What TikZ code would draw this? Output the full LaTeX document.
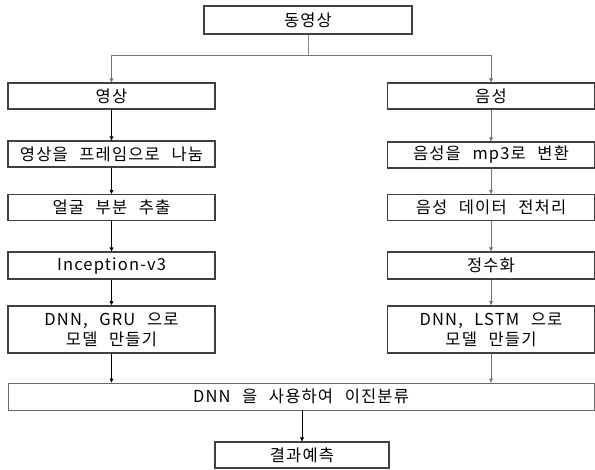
\documentclass[tikz,border=0pt]{standalone}
\usepackage{fontspec}
\setmainfont{Noto Sans CJK KR}[WordSpace=2.4, LetterSpace=7]
\usetikzlibrary{arrows.meta, positioning}

\begin{document}
\begin{tikzpicture}[
    x=1pt, y=-1pt,
    >={Triangle[length=4pt, width=3.6pt]},
    box/.style={draw=black!75, line width=1.1pt, minimum width=207pt, minimum height=26pt,
                inner sep=0pt, font=\fontsize{16.5}{20}\selectfont, align=center},
    modelbox/.style={box, line width=1.7pt, minimum height=47pt},
    widebox/.style={box, draw=black!60, line width=0.8pt, minimum width=586pt, minimum height=27pt},
    arr/.style={->, line width=0.7pt},
    grayarr/.style={arr, color=black!55},
    link/.style={draw=black!45, line width=0.8pt},
]
\useasboundingbox (0,0) rectangle (595,470);
% === Source ===
\node[box, minimum width=208pt, minimum height=28pt] (movie) at (308,20) {동영상};
\coordinate (split) at (308,55);
% === Video branch (left column) ===
\node[box] (image) at (111.5,96) {영상};
\node[box] (frames) at (111.5,154) {영상을 프레임으로 나눔};
\node[box] (face) at (111.5,207.5) {얼굴 부분 추출};
\node[box, minimum height=27pt] (incep) at (111.5,265.5) {Inception-v3};
\node[modelbox] (gru) at (111.5,329.5) {DNN, GRU 으로\\모델 만들기};
% === Audio branch (right column) ===
\node[box] (sound) at (491,96) {음성};
\node[box] (mp3) at (491,155) {음성을 mp3로 변환};
\node[box] (prep) at (491,207.5) {음성 데이터 전처리};
\node[box, minimum height=27pt] (quant) at (491,265.5) {정수화};
\node[modelbox] (lstm) at (491,329.5) {DNN, LSTM 으로\\모델 만들기};
% === Classification and result ===
\node[widebox] (classify) at (301,396.5) {DNN 을 사용하여 이진분류};
\node[box, minimum width=174pt] (result) at (302,455) {결과예측};
% === Connectors ===
\draw[link] (movie) -- (split);
\draw[grayarr] (split) -| (image.north);
\draw[grayarr] (split) -| (sound.north);
\draw[arr] (image) -- (frames);
\draw[arr] (frames) -- (face);
\draw[arr] (face) -- (incep);
\draw[arr] (incep) -- (gru);
\draw[arr] (gru) -- (gru |- classify.north);
\draw[grayarr] (sound) -- (mp3);
\draw[grayarr] (mp3) -- (prep);
\draw[grayarr] (prep) -- (quant);
\draw[grayarr] (quant) -- (lstm);
\draw[grayarr] (lstm) -- (lstm |- classify.north);
\draw[arr] (classify.south -| result.north) -- (result);
\end{tikzpicture}
\end{document}
